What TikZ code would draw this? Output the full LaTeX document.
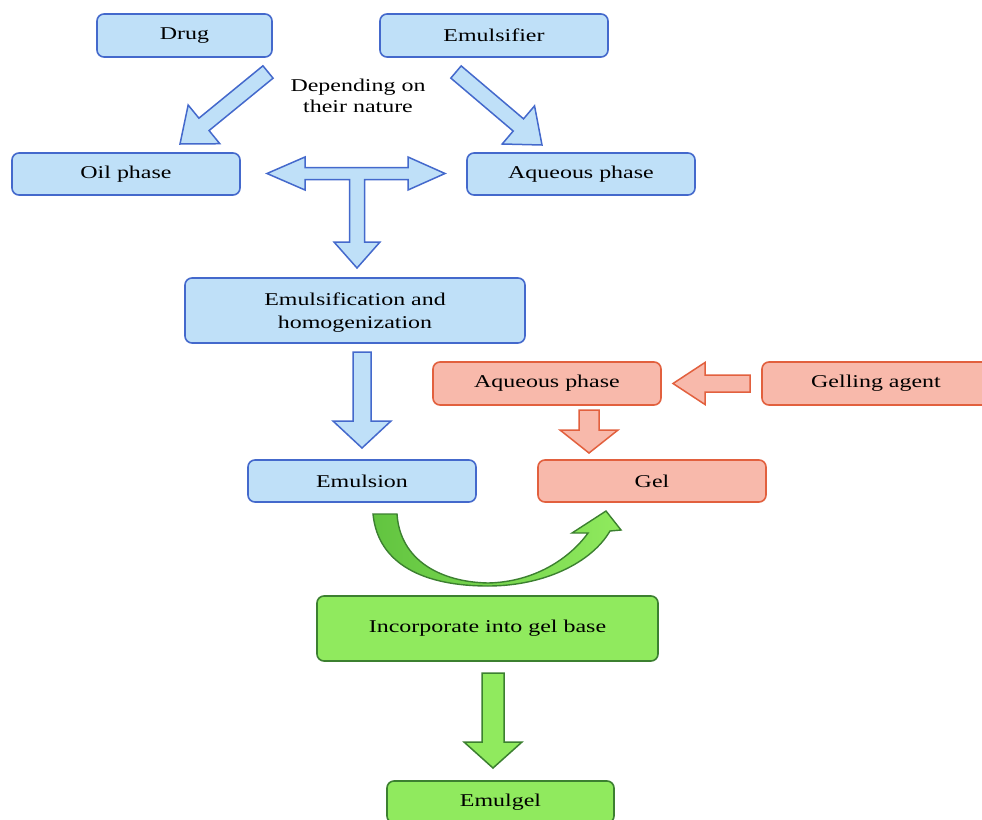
\documentclass[tikz,border=0pt]{standalone}
\usepackage{fontspec}
\setmainfont[FakeStretch=1.33]{Liberation Serif}
\usetikzlibrary{calc}
\definecolor{bfill}{HTML}{BFE0F8}
\definecolor{bline}{HTML}{4469CC}
\definecolor{rfill}{HTML}{F8B9AB}
\definecolor{rline}{HTML}{E2603E}
\definecolor{gfill}{HTML}{90EA5E}
\definecolor{gline}{HTML}{3C8030}
\definecolor{gdark}{HTML}{62C440}
% block arrow: #1 tail, #2 tip, #3 shaft half width, #4 head half width, #5 head length, #6 style
\newcommand{\blockarr}[6]{%
  \coordinate (bah) at ($(#2)!#5!(#1)$);
  \draw[#6] ($(#1)!#3!90:(#2)$) -- ($(bah)!#3!90:(#2)$) -- ($(bah)!#4!90:(#2)$)
    -- (#2) -- ($(bah)!#4!-90:(#2)$) -- ($(bah)!#3!-90:(#2)$) -- ($(#1)!#3!-90:(#2)$) -- cycle;
}
\tikzset{
  box/.style={rounded corners=7pt, line width=1.6pt, align=center, inner sep=0pt},
  bluebox/.style={box, draw=bline, fill=bfill},
  redbox/.style={box, draw=rline, fill=rfill},
  greenbox/.style={box, draw=gline, fill=gfill},
  bluearr/.style={draw=bline, fill=bfill, line width=1.5pt, line join=miter},
  redarr/.style={draw=rline, fill=rfill, line width=1.5pt, line join=miter},
  greenarr/.style={draw=gline, fill=gfill, line width=1.5pt, line join=miter},
}
\begin{document}
\begin{tikzpicture}[x=1pt,y=-1pt, font=\fontsize{18}{23}\selectfont]
\useasboundingbox (0,0) rectangle (982,819);
\clip (0,0) rectangle (982,819);
\fill[white] (0,0) rectangle (982,819);

% boxes
\node[bluebox, minimum width=175pt, minimum height=43pt] (drug) at (184.5,35.5) {Drug};
\node[bluebox, minimum width=228pt, minimum height=43pt] (emulsifier) at (494,35.5) {Emulsifier};
\node[bluebox, minimum width=228pt, minimum height=42pt] (oil) at (126,174) {Oil phase};
\node[bluebox, minimum width=228pt, minimum height=42pt] (aqb) at (581,174) {Aqueous phase};
\node[bluebox, minimum width=340pt, minimum height=65pt, text depth=0pt] (emh) at (355,310.5) {Emulsification and\\homogenization};
\node[redbox, minimum width=228pt, minimum height=43pt] (aqr) at (547,383.5) {Aqueous phase};
\node[redbox, minimum width=228pt, minimum height=43pt] (gelling) at (876,383.5) {Gelling agent};
\node[bluebox, minimum width=228pt, minimum height=42pt] (emulsion) at (362,481) {Emulsion};
\node[redbox, minimum width=228pt, minimum height=42pt] (gel) at (652,481) {Gel};
\node[greenbox, minimum width=341pt, minimum height=65pt] (incorp) at (487.5,628.5) {Incorporate into gel base};
\node[greenbox, minimum width=227pt, minimum height=42pt] (emulgel) at (500.5,802) {Emulgel};

\node[align=center, font=\fontsize{18}{21}\selectfont] (dep) at (358,96) {Depending on\\their nature};

% straight block arrows
\coordinate (a1s) at (268,72);  \coordinate (a1e) at (180,144);
\blockarr{a1s}{a1e}{8pt}{25pt}{31pt}{bluearr}
\coordinate (a2s) at (456,72);  \coordinate (a2e) at (542,145);
\blockarr{a2s}{a2e}{8pt}{25pt}{31pt}{bluearr}
\coordinate (a3s) at (362,352); \coordinate (a3e) at (362,448);
\blockarr{a3s}{a3e}{9pt}{29pt}{27pt}{bluearr}
\coordinate (a4s) at (750,383.5); \coordinate (a4e) at (673,383.5);
\blockarr{a4s}{a4e}{8.5pt}{21pt}{32pt}{redarr}
\coordinate (a5s) at (589,410); \coordinate (a5e) at (589,453);
\blockarr{a5s}{a5e}{10pt}{29pt}{23pt}{redarr}
\coordinate (a6s) at (493,673); \coordinate (a6e) at (493,768);
\blockarr{a6s}{a6e}{11pt}{29pt}{26pt}{greenarr}

% T-shaped arrow between the phases
\draw[bluearr] (267,173.5) -- (305,157) -- (305,167.5) -- (408,167.5) -- (408,157) -- (445,173.5)
  -- (408,190) -- (408,179.5) -- (364.5,179.5) -- (364.5,242) -- (380,242) -- (357,268)
  -- (334,242) -- (349.5,242) -- (349.5,179.5) -- (305,179.5) -- (305,190) -- cycle;

% curved arrow from emulsion to gel
\path[draw=gline, line width=1.4pt, left color=gdark, right color=gfill, line join=miter]
  (373,514) .. controls (378,565) and (425,586) .. (488,586)
  .. controls (545,586) and (592,562) .. (610,531) -- (621,530) -- (606,511) -- (572,533) -- (588,533)
  .. controls (570,558) and (535,582) .. (488,583)
  .. controls (440,582) and (400,560) .. (397,514) -- cycle;
\end{tikzpicture}
\end{document}
